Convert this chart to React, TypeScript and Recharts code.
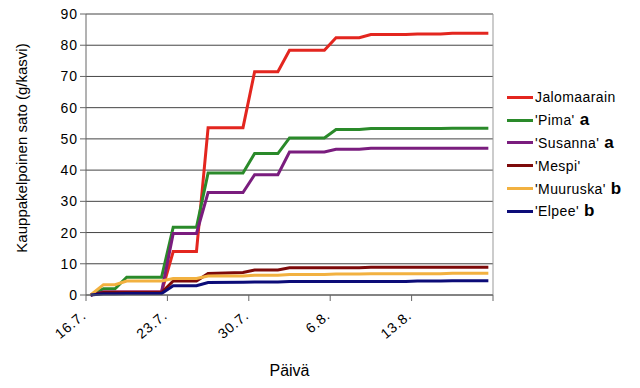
import React from "react";
import {
  LineChart,
  Line,
  XAxis,
  YAxis,
  CartesianGrid,
  ReferenceLine
} from "recharts";

// days counted from 16.7.
const days = [0.4, 1.5, 2.5, 3.5, 6.5, 7.5, 9.5, 10.5, 13.5, 14.5, 16.5, 17.5, 20.5, 21.5, 23.5, 24.5, 27.5, 28.5, 30.5, 31.5, 34.6];

const jalomaarain = [0, 1, 1, 1, 1, 13.9, 13.9, 53.6, 53.6, 71.5, 71.5, 78.4, 78.4, 82.4, 82.4, 83.4, 83.4, 83.6, 83.6, 83.8, 83.8];
const pima = [0, 2, 2, 5.7, 5.7, 21.7, 21.7, 39.1, 39.1, 45.3, 45.3, 50.3, 50.3, 53, 53, 53.3, 53.3, 53.3, 53.3, 53.4, 53.4];
const susanna = [0, 1, 1, 1, 1, 19.7, 19.7, 32.8, 32.8, 38.5, 38.5, 45.8, 45.8, 46.7, 46.7, 47, 47, 47, 47, 47, 47];
const mespi = [0, 0.8, 0.8, 0.8, 0.8, 4.5, 4.5, 6.9, 7.2, 8, 8, 8.7, 8.7, 8.7, 8.7, 8.9, 8.9, 8.9, 8.9, 8.9, 8.9];
const muuruska = [0, 3.3, 3.3, 4.5, 4.5, 5.3, 5.3, 6.1, 6.1, 6.3, 6.3, 6.6, 6.6, 6.7, 6.7, 6.8, 6.8, 6.8, 6.8, 7, 7];
const elpee = [0, 0.4, 0.4, 0.5, 0.5, 3, 3, 4, 4.1, 4.2, 4.2, 4.3, 4.3, 4.3, 4.3, 4.3, 4.3, 4.5, 4.5, 4.6, 4.6];

const xTicks = [0, 7, 14, 21, 28, 35];
const xTickLabels = ["16.7.", "23.7.", "30.7.", "6.8.", "13.8.", ""];
const yTicks = [0, 10, 20, 30, 40, 50, 60, 70, 80, 90];

const series = [
  { key: "jalomaarain", name: "Jalomaarain", mark: "", color: "#e3261f", values: jalomaarain },
  { key: "pima", name: "'Pima'", mark: "a", color: "#2a8a2a", values: pima },
  { key: "susanna", name: "'Susanna'", mark: "a", color: "#7a1d7e", values: susanna },
  { key: "mespi", name: "'Mespi'", mark: "", color: "#7d0a0a", values: mespi },
  { key: "muuruska", name: "'Muuruska'", mark: "b", color: "#f2b140", values: muuruska },
  { key: "elpee", name: "'Elpee'", mark: "b", color: "#0c0c78", values: elpee }
];

const data = days.map((d, i) => {
  const row: Record<string, number> = { day: d };
  series.forEach((s) => {
    row[s.key] = s.values[i];
  });
  return row;
});

const font = "'Liberation Sans', Arial, sans-serif";

function XTick(props: any) {
  const { x, y, payload } = props;
  const idx = xTicks.indexOf(payload.value);
  return (
    <g transform={`translate(${x + 1},${y + 14})`}>
      <text
        transform="rotate(-40)"
        textAnchor="end"
        fontSize={14}
        letterSpacing={0.8}
        fontFamily={font}
        fill="#000"
      >
        {xTickLabels[idx]}
      </text>
    </g>
  );
}

function YTick(props: any) {
  const { x, y, payload } = props;
  return (
    <text
      x={x}
      y={y}
      dy={5}
      textAnchor="end"
      fontSize={14}
      letterSpacing={1}
      fontFamily={font}
      fill="#000"
    >
      {payload.value}
    </text>
  );
}

function YTitle() {
  return (
    <text
      x={23}
      y={148}
      transform="rotate(-90 23 148)"
      textAnchor="middle"
      dominantBaseline="middle"
      fontSize={15}
      fontFamily={font}
      fill="#000"
    >
      Kauppakelpoinen sato (g/kasvi)
    </text>
  );
}

function LegendBox() {
  return (
    <div
      style={{
        position: "absolute",
        left: 507,
        top: 86,
        fontFamily: font,
        fontSize: 14,
        letterSpacing: 0.4,
        color: "#000"
      }}
    >
      {series.map((s) => (
        <div
          key={s.key}
          style={{ display: "flex", alignItems: "center", height: 22.8 }}
        >
          <span
            style={{
              display: "inline-block",
              width: 26,
              height: 3,
              background: s.color,
              marginRight: 2
            }}
          />
          <span>{s.name}</span>
          {s.mark && (
            <span style={{ fontWeight: "bold", fontSize: 17, marginLeft: 5 }}>
              {s.mark}
            </span>
          )}
        </div>
      ))}
    </div>
  );
}

export default function App() {
  return (
    <div
      style={{
        position: "absolute",
        left: 0,
        top: 0,
        width: 640,
        height: 388,
        background: "#fff"
      }}
    >
      <LineChart
        width={640}
        height={388}
        data={data}
        margin={{ top: 14, right: 147, bottom: 0, left: 0 }}
      >
        <CartesianGrid vertical={false} stroke="#444" strokeWidth={1} />
        <ReferenceLine x={35} stroke="#999" />
        <XAxis
          dataKey="day"
          type="number"
          domain={[0, 35]}
          ticks={xTicks}
          interval={0}
          height={93}
          stroke="#666"
          tickSize={6}
          tick={<XTick />}
          label={{
            value: "Päivä",
            position: "insideBottom",
            offset: 12,
            fontSize: 16,
            fontFamily: font,
            fill: "#000"
          }}
        />
        <YAxis
          type="number"
          domain={[0, 90]}
          ticks={yTicks}
          interval={0}
          width={86}
          stroke="#666"
          tickSize={6}
          tick={<YTick />}
          label={<YTitle />}
        />
        {series.map((s) => (
          <Line
            key={s.key}
            type="linear"
            dataKey={s.key}
            name={s.name}
            stroke={s.color}
            strokeWidth={3}
            dot={false}
            isAnimationActive={false}
          />
        ))}
      </LineChart>
      <LegendBox />
    </div>
  );
}
